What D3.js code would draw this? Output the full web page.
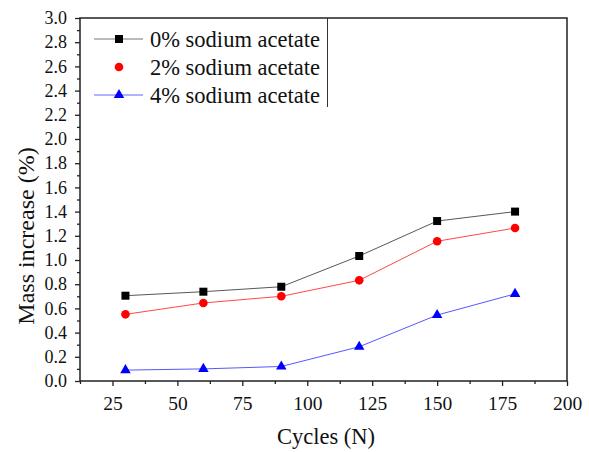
<!DOCTYPE html>
<html lang="en">
<head>
    <meta charset="UTF-8">
    <title>Mass increase vs cycles</title>
    <script src="https://d3js.org/d3.v7.min.js"></script>
    <style>
        body { margin: 0; background: #fff; }
    </style>
</head>
<body>
    <svg id="chart" width="589" height="452"></svg>

    <script>
        // data
        const cycles = [30, 60, 90, 120, 150, 180];
        const acetate0 = [0.705, 0.738, 0.779, 1.033, 1.322, 1.40];
        const acetate2 = [0.551, 0.645, 0.70, 0.832, 1.155, 1.264];
        const acetate4 = [0.09, 0.10, 0.12, 0.283, 0.545, 0.72];
        const seriesNames = ["0% sodium acetate", "2% sodium acetate", "4% sodium acetate"];
        const xTicks = [25, 50, 75, 100, 125, 150, 175, 200];
        const yTicks = d3.range(0, 3.01, 0.2);

        const serif = "'Liberation Serif'";

        const series = [
            { name: seriesNames[0], values: acetate0, color: "#000", line: "#444", shape: d3.symbolSquare, size: 64 },
            { name: seriesNames[1], values: acetate2, color: "#f00", line: "#f33", shape: d3.symbolCircle, size: 58 },
            { name: seriesNames[2], values: acetate4, color: "#00f", line: "#44f", shape: d3.symbolTriangle, size: 48 }
        ];

        const svg = d3.select("#chart");
        const mLeft = 80, mRight = 567, mTop = 18, mBottom = 381;

        const x = d3.scaleLinear().domain([12.5, 200]).range([mLeft, mRight]);
        const y = d3.scaleLinear().domain([0, 3]).range([mBottom, mTop]);

        // frame
        svg.append("rect")
            .attr("x", mLeft).attr("y", mTop)
            .attr("width", mRight - mLeft).attr("height", mBottom - mTop)
            .attr("fill", "none").attr("stroke", "#222").attr("stroke-width", 1.5);

        // x axis with minor ticks
        const xAxis = svg.append("g").attr("transform", `translate(0,${mBottom})`);
        xAxis.call(d3.axisBottom(x).tickValues(xTicks).tickSize(5).tickPadding(10).tickFormat(d3.format("d")));
        xAxis.append("g").call(d3.axisBottom(x).tickValues(d3.range(12.5, 200, 25)).tickSize(3).tickFormat(""));

        const yAxis = svg.append("g").attr("transform", `translate(${mLeft},0)`);
        yAxis.call(d3.axisLeft(y).tickValues(yTicks).tickSize(5).tickPadding(8).tickFormat(d3.format(".1f")));
        yAxis.append("g").call(d3.axisLeft(y).tickValues(d3.range(0.1, 3, 0.2)).tickSize(3).tickFormat(""));

        svg.selectAll(".domain").remove();
        svg.selectAll(".tick line").attr("stroke", "#222").attr("stroke-width", 1.3);
        xAxis.selectAll(".tick text")
            .style("font-family", serif).style("font-size", "19.5px").attr("fill", "#111");
        yAxis.selectAll(".tick text")
            .style("font-family", serif).style("font-size", "18px").attr("fill", "#111");

        // axis titles
        svg.append("text")
            .attr("x", 326).attr("y", 444)
            .attr("text-anchor", "middle")
            .style("font-family", serif).style("font-size", "22.5px").attr("fill", "#111")
            .text("Cycles (N)");
        svg.append("text")
            .attr("transform", "translate(34,236) rotate(-90)")
            .attr("text-anchor", "middle")
            .style("font-family", serif).style("font-size", "24px").attr("fill", "#111")
            .text("Mass increase (%)");

        // series
        const line = d3.line().x((d, i) => x(cycles[i])).y(d => y(d));
        series.forEach(s => {
            svg.append("path")
                .attr("d", line(s.values))
                .attr("fill", "none")
                .attr("stroke", s.line)
                .attr("stroke-width", 0.9);
            svg.selectAll(null)
                .data(s.values)
                .enter()
                .append("path")
                .attr("d", d3.symbol().type(s.shape).size(s.size))
                .attr("transform", (d, i) => `translate(${x(cycles[i])},${y(d)})`)
                .attr("fill", s.color);
        });

        // legend
        const legendRows = [39, 67, 95];
        const legend = svg.append("g");
        legend.append("line")
            .attr("x1", 327.5).attr("x2", 327.5).attr("y1", mTop).attr("y2", 107)
            .attr("stroke", "#333").attr("stroke-width", 1);
        series.forEach((s, i) => {
            const g = legend.append("g").attr("transform", `translate(0,${legendRows[i]})`);
            if (i !== 1) {
                g.append("line").attr("x1", 94).attr("x2", 143)
                    .attr("stroke", i === 0 ? "#777" : "#66f").attr("stroke-width", 1.2);
            }
            g.append("path")
                .attr("d", d3.symbol().type(s.shape).size(s.size))
                .attr("transform", "translate(119,0)")
                .attr("fill", s.color);
            g.append("text")
                .attr("x", 150).attr("dy", "0.35em")
                .style("font-family", serif).style("font-size", "22.5px").attr("fill", "#111")
                .text(s.name);
        });
    </script>
</body>
</html>
